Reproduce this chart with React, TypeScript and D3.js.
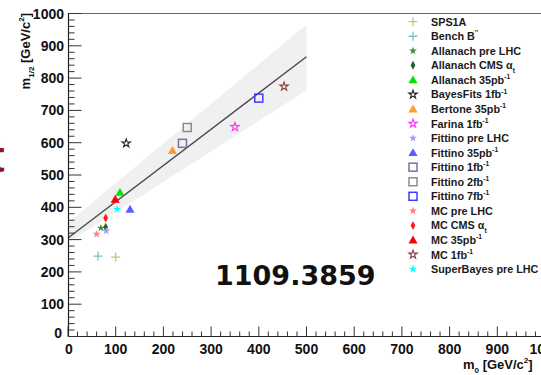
import React, { useRef, useEffect, useCallback } from 'react';
import * as d3 from 'd3';

const WIDTH = 541;
const HEIGHT = 375;

// fit line and its band (m0 -> m1/2)
const fitM0 = [0, 500];
const fitM12 = [305, 866];
const bandLow = [290, 762];
const bandHigh = [352, 966];

const pointNames = [
  'SPS1A', "Bench B^{''}", 'Allanach pre LHC', 'Allanach CMS α_{t}', 'Allanach 35pb^{-1}',
  'BayesFits 1fb^{-1}', 'Bertone 35pb^{-1}', 'Farina 1fb^{-1}', 'Fittino pre LHC', 'Fittino 35pb^{-1}',
  'Fittino 1fb^{-1}', 'Fittino 2fb^{-1}', 'Fittino 7fb^{-1}', 'MC pre LHC', 'MC CMS α_{t}',
  'MC 35pb^{-1}', 'MC 1fb^{-1}', 'SuperBayes pre LHC',
];
const pointM0 = [100, 63, 69, 79, 109, 122, 219, 350, 80, 130, 240, 250, 400, 60, 79, 99, 453, 103];
const pointM12 = [246, 249, 336, 338, 446, 598, 576, 649, 327, 394, 598, 647, 738, 317, 367, 425, 774, 394];

const markerKinds = [
  'plus', 'plus', 'star', 'diamond', 'triangle', 'openStar', 'triangle', 'openStar', 'star', 'triangle',
  'openSquare', 'openSquare', 'openSquare', 'star', 'diamond', 'triangle', 'openStar', 'star',
];
const markerColors = [
  '#c9c27a', '#72c6c6', '#3d8c3d', '#2c5e2c', '#00e400', '#222222', '#ff9a2e', '#ff2cff', '#9b9bff', '#5c5cff',
  '#7474a8', '#8a8a9a', '#3c3cff', '#ff7b7b', '#ff1c1c', '#ff0000', '#8e3f3f', '#00ffff',
];

const yTicks = d3.range(0, 1001, 100);
const xTicks = d3.range(0, 1001, 100);

const FONT = '"Liberation Sans", Arial, sans-serif';

const App = () => {
  const svgRef = useRef(null);

  const richText = useCallback((sel, label, size) => {
    const parts = label.split(/(\^\{[^}]*\}|_\{[^}]*\})/).filter(p => p !== '');
    let off = 0;
    parts.forEach(p => {
      const t = sel.append('tspan');
      if (p.startsWith('^{')) {
        t.attr('dy', -size * 0.45 - off).attr('font-size', size * 0.62).text(p.slice(2, -1));
        off = -size * 0.45;
      } else if (p.startsWith('_{')) {
        t.attr('dy', size * 0.3 - off).attr('font-size', size * 0.62).text(p.slice(2, -1));
        off = size * 0.3;
      } else {
        t.attr('dy', -off).text(p);
        off = 0;
      }
    });
  }, []);

  const drawMarker = useCallback((g, kind, color) => {
    if (kind === 'plus') {
      g.append('path').attr('d', 'M-4.5,0H4.5M0,-4.5V4.5')
        .attr('stroke', color).attr('stroke-width', 1.3).attr('fill', 'none');
    } else if (kind === 'star') {
      g.append('path').attr('d', d3.symbol(d3.symbolStar, 20)()).attr('fill', color);
    } else if (kind === 'openStar') {
      g.append('path').attr('d', d3.symbol(d3.symbolStar, 22)())
        .attr('fill', 'none').attr('stroke', color).attr('stroke-width', 1.1);
    } else if (kind === 'triangle') {
      g.append('path').attr('d', d3.symbol(d3.symbolTriangle, 36)()).attr('transform', 'translate(0,0.8)').attr('fill', color);
    } else if (kind === 'diamond') {
      g.append('path').attr('d', 'M0,-4.5L2.4,0L0,4.5L-2.4,0Z').attr('fill', color);
    } else if (kind === 'openSquare') {
      g.append('rect').attr('x', -4).attr('y', -4).attr('width', 8).attr('height', 8)
        .attr('fill', 'none').attr('stroke', color).attr('stroke-width', 1.5);
    }
  }, []);

  const drawChart = useCallback((div) => {
    const svg = d3.select(div);
    svg.selectAll('*').remove();

    const x = d3.scaleLinear().domain([0, 1000]).range([68, 545]);
    const y = d3.scaleLinear().domain([0, 1000]).range([336.5, 13.5]);

    // band + fit
    const bandPts = [
      [x(fitM0[0]), y(bandHigh[0])], [x(fitM0[1]), y(bandHigh[1])],
      [x(fitM0[1]), y(bandLow[1])], [x(fitM0[0]), y(bandLow[0])],
    ];
    svg.append('polygon').attr('points', bandPts.join(' ')).attr('fill', '#f0f0f0');
    svg.append('line')
      .attr('x1', x(fitM0[0])).attr('y1', y(fitM12[0]))
      .attr('x2', x(fitM0[1])).attr('y2', y(fitM12[1]))
      .attr('stroke', '#444').attr('stroke-width', 1.3);

    // frame
    svg.append('line').attr('x1', 68).attr('x2', 545).attr('y1', 13.5).attr('y2', 13.5)
      .attr('stroke', '#666').attr('stroke-width', 1.2);
    svg.append('line').attr('x1', 68).attr('x2', 545).attr('y1', 336.5).attr('y2', 336.5)
      .attr('stroke', '#222').attr('stroke-width', 1.2);
    svg.append('line').attr('x1', 68.5).attr('x2', 68.5).attr('y1', 13).attr('y2', 337)
      .attr('stroke', '#222').attr('stroke-width', 1.2);

    // ticks
    const minor = d3.range(0, 1001, 20);
    minor.forEach(v => {
      const major = v % 100 === 0;
      svg.append('line').attr('x1', 68.5).attr('x2', 68.5 + (major ? 13 : 6))
        .attr('y1', y(v)).attr('y2', y(v)).attr('stroke', '#333').attr('stroke-width', 1);
      svg.append('line').attr('x1', x(v)).attr('x2', x(v))
        .attr('y1', 336.5).attr('y2', 336.5 - (major ? 10 : 5)).attr('stroke', '#333').attr('stroke-width', 1);
    });

    const lab = svg.append('g').attr('font-family', FONT).attr('font-weight', 'bold')
      .attr('font-size', 14).attr('fill', '#111');
    yTicks.forEach(v => {
      if (v === 0) {
        lab.append('text').attr('x', 62).attr('y', 338).attr('text-anchor', 'end').text(v);
      } else {
        lab.append('text').attr('x', 64).attr('y', y(v)).attr('dy', '0.36em').attr('text-anchor', 'end').text(v);
      }
    });
    xTicks.forEach(v => {
      lab.append('text').attr('x', v === 0 ? x(v) + 1 : x(v)).attr('y', 354).attr('text-anchor', 'middle').text(v);
    });

    // axis titles
    const xt = svg.append('text').attr('x', 463).attr('y', 369).attr('font-family', FONT)
      .attr('font-weight', 'bold').attr('font-size', 13).attr('fill', '#111');
    richText(xt, 'm_{0} [GeV/c^{2}]', 13);
    const yt = svg.append('text').attr('transform', 'translate(30,13) rotate(-90)').attr('text-anchor', 'end')
      .attr('font-family', FONT).attr('font-weight', 'bold').attr('font-size', 13).attr('fill', '#111');
    richText(yt, 'm_{1/2} [GeV/c^{2}]', 13);

    // points
    pointNames.forEach((n, i) => {
      const g = svg.append('g').attr('transform', `translate(${x(pointM0[i])},${y(pointM12[i])})`);
      drawMarker(g, markerKinds[i], markerColors[i]);
    });

    // legend
    const leg = svg.append('g');
    pointNames.forEach((n, i) => {
      const ly = 21.7 + i * 14.55;
      const g = leg.append('g').attr('transform', `translate(413,${ly})`);
      drawMarker(g, markerKinds[i], markerColors[i]);
      const t = leg.append('text').attr('x', 431).attr('y', ly + 4).attr('font-family', FONT)
        .attr('font-weight', 'bold').attr('font-size', 10.8).attr('fill', '#1a1a1a');
      richText(t, n, 10.8);
    });

    // slide annotations
    svg.append('text').attr('x', 215).attr('y', 285).attr('font-family', '"DejaVu Sans", sans-serif')
      .attr('font-weight', 'bold').attr('font-size', 27).attr('fill', '#111').text('1109.3859');
    svg.append('text').attr('x', -10).attr('y', 172).attr('font-family', FONT)
      .attr('font-weight', 'bold').attr('font-size', 44).attr('fill', '#8b1a1a').text('t');
  }, [richText, drawMarker]);

  useEffect(() => {
    if (svgRef.current) {
      drawChart(svgRef.current);
    }
  }, [svgRef, drawChart]);

  return (
    <svg
      ref={svgRef}
      width={WIDTH}
      height={HEIGHT}
      style={{ position: 'absolute', left: 0, top: 0, background: '#fff' }}
    />
  );
};

export default App;
